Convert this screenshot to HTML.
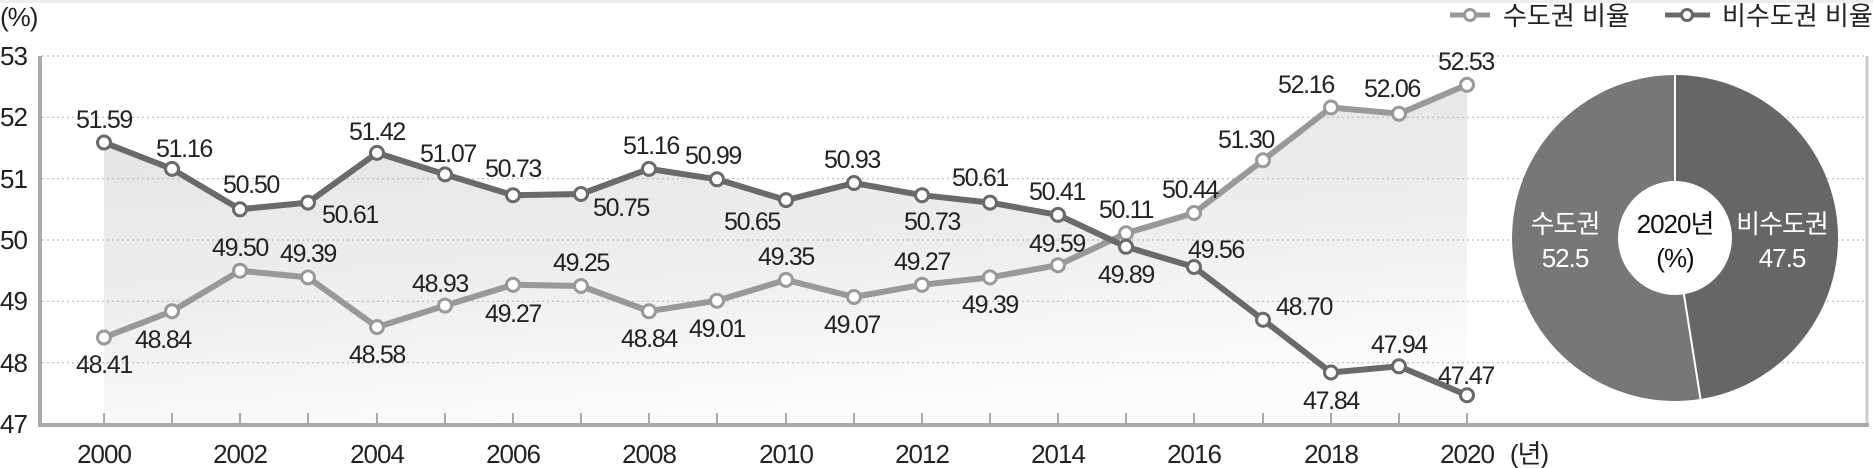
<!DOCTYPE html>
<html><head><meta charset="utf-8"><style>
html,body{margin:0;padding:0;background:#fff;}
svg{display:block;}
text{font-family:"Liberation Sans","Noto Sans CJK KR",sans-serif;}
</style></head><body>
<svg width="1873" height="468" viewBox="0 0 1873 468" xmlns="http://www.w3.org/2000/svg">
<defs>
<linearGradient id="g" x1="0" y1="0" x2="0.3" y2="1">
<stop offset="0" stop-color="#e2e2e2"/><stop offset="0.6" stop-color="#eeeeee"/><stop offset="1" stop-color="#fbfbfb"/>
</linearGradient>
</defs>
<rect x="0" y="0" width="1873" height="3" fill="#eee"/>
<polygon fill="url(#g)" points="104,424 104,142.5 172,168.9 240,209.3 308,202.6 377,152.9 445,174.4 513,195.2 581,194 649,168.9 717,179.3 786,200.1 854,183 922,195.2 990,202.6 1058,214.9 1114,240 1126,233.3 1194,213 1263,160.3 1331,107.5 1399,113.7 1467,84.8 1467,424"/>
<g stroke="#bbb" stroke-width="1.2" stroke-dasharray="2,3">
<line x1="42" y1="56" x2="1866" y2="56"/>
<line x1="42" y1="117.3" x2="1866" y2="117.3"/>
<line x1="42" y1="178.7" x2="1866" y2="178.7"/>
<line x1="42" y1="240" x2="1866" y2="240"/>
<line x1="42" y1="301.3" x2="1866" y2="301.3"/>
<line x1="42" y1="362.7" x2="1866" y2="362.7"/>
</g>
<line x1="1867" y1="56" x2="1867" y2="427" stroke="#ccc" stroke-width="3"/>
<line x1="40" y1="56" x2="40" y2="427" stroke="#aaa" stroke-width="4"/>
<line x1="38" y1="425" x2="1869" y2="425" stroke="#aaa" stroke-width="4"/>
<g stroke="#aaa" stroke-width="2">
<line x1="104" y1="413" x2="104" y2="424"/><line x1="172" y1="413" x2="172" y2="424"/><line x1="240" y1="413" x2="240" y2="424"/><line x1="308" y1="413" x2="308" y2="424"/><line x1="377" y1="413" x2="377" y2="424"/><line x1="445" y1="413" x2="445" y2="424"/><line x1="513" y1="413" x2="513" y2="424"/><line x1="581" y1="413" x2="581" y2="424"/><line x1="649" y1="413" x2="649" y2="424"/><line x1="717" y1="413" x2="717" y2="424"/><line x1="786" y1="413" x2="786" y2="424"/><line x1="854" y1="413" x2="854" y2="424"/><line x1="922" y1="413" x2="922" y2="424"/><line x1="990" y1="413" x2="990" y2="424"/><line x1="1058" y1="413" x2="1058" y2="424"/><line x1="1126" y1="413" x2="1126" y2="424"/><line x1="1194" y1="413" x2="1194" y2="424"/><line x1="1263" y1="413" x2="1263" y2="424"/><line x1="1331" y1="413" x2="1331" y2="424"/><line x1="1399" y1="413" x2="1399" y2="424"/><line x1="1467" y1="413" x2="1467" y2="424"/>
</g>
<g font-size="26" fill="#222" letter-spacing="-1">
<text x="0" y="26">(%)</text>
<text x="0" y="65">53</text><text x="0" y="126">52</text><text x="0" y="188">51</text><text x="0" y="249">50</text><text x="0" y="310">49</text><text x="0" y="372">48</text><text x="0" y="433">47</text>
</g>
<g font-size="26" fill="#222" text-anchor="middle" letter-spacing="-1">
<text x="104" y="463">2000</text><text x="240" y="463">2002</text><text x="377" y="463">2004</text><text x="513" y="463">2006</text><text x="649" y="463">2008</text><text x="786" y="463">2010</text><text x="922" y="463">2012</text><text x="1058" y="463">2014</text><text x="1194" y="463">2016</text><text x="1331" y="463">2018</text><text x="1467" y="463">2020</text>
<text x="1529" y="463">(년)</text>
</g>
<polyline fill="none" stroke="#999" stroke-width="6" stroke-linejoin="round" points="104,337.5 172,311.2 240,270.7 308,277.4 377,327.1 445,305.6 513,284.8 581,286 649,311.2 717,300.7 786,279.9 854,297 922,284.8 990,277.4 1058,265.2 1126,233.3 1194,213 1263,160.3 1331,107.5 1399,113.7 1467,84.8"/>
<polyline fill="none" stroke="#6a6a6a" stroke-width="6" stroke-linejoin="round" points="104,142.5 172,168.9 240,209.3 308,202.6 377,152.9 445,174.4 513,195.2 581,194 649,168.9 717,179.3 786,200.1 854,183 922,195.2 990,202.6 1058,214.9 1126,246.8 1194,267 1263,319.7 1331,372.5 1399,366.3 1467,395.2"/>
<g fill="#fff" stroke="#999" stroke-width="3">
<circle cx="104" cy="337.5" r="6.5"/><circle cx="172" cy="311.2" r="6.5"/><circle cx="240" cy="270.7" r="6.5"/><circle cx="308" cy="277.4" r="6.5"/><circle cx="377" cy="327.1" r="6.5"/><circle cx="445" cy="305.6" r="6.5"/><circle cx="513" cy="284.8" r="6.5"/><circle cx="581" cy="286" r="6.5"/><circle cx="649" cy="311.2" r="6.5"/><circle cx="717" cy="300.7" r="6.5"/><circle cx="786" cy="279.9" r="6.5"/><circle cx="854" cy="297" r="6.5"/><circle cx="922" cy="284.8" r="6.5"/><circle cx="990" cy="277.4" r="6.5"/><circle cx="1058" cy="265.2" r="6.5"/><circle cx="1126" cy="233.3" r="6.5"/><circle cx="1194" cy="213" r="6.5"/><circle cx="1263" cy="160.3" r="6.5"/><circle cx="1331" cy="107.5" r="6.5"/><circle cx="1399" cy="113.7" r="6.5"/><circle cx="1467" cy="84.8" r="6.5"/>
</g>
<g fill="#fff" stroke="#6a6a6a" stroke-width="3">
<circle cx="104" cy="142.5" r="6.5"/><circle cx="172" cy="168.9" r="6.5"/><circle cx="240" cy="209.3" r="6.5"/><circle cx="308" cy="202.6" r="6.5"/><circle cx="377" cy="152.9" r="6.5"/><circle cx="445" cy="174.4" r="6.5"/><circle cx="513" cy="195.2" r="6.5"/><circle cx="581" cy="194" r="6.5"/><circle cx="649" cy="168.9" r="6.5"/><circle cx="717" cy="179.3" r="6.5"/><circle cx="786" cy="200.1" r="6.5"/><circle cx="854" cy="183" r="6.5"/><circle cx="922" cy="195.2" r="6.5"/><circle cx="990" cy="202.6" r="6.5"/><circle cx="1058" cy="214.9" r="6.5"/><circle cx="1126" cy="246.8" r="6.5"/><circle cx="1194" cy="267" r="6.5"/><circle cx="1263" cy="319.7" r="6.5"/><circle cx="1331" cy="372.5" r="6.5"/><circle cx="1399" cy="366.3" r="6.5"/><circle cx="1467" cy="395.2" r="6.5"/>
</g>
<g font-size="25" fill="#222" text-anchor="middle" letter-spacing="-1.3">
<text x="104" y="128">51.59</text><text x="184" y="157">51.16</text><text x="251" y="193">50.50</text><text x="350" y="223">50.61</text><text x="377" y="140">51.42</text><text x="448" y="162">51.07</text><text x="513" y="177">50.73</text><text x="621" y="216">50.75</text><text x="651" y="154">51.16</text><text x="713" y="164">50.99</text><text x="752" y="230">50.65</text><text x="852" y="168">50.93</text><text x="932" y="230">50.73</text><text x="980" y="186">50.61</text><text x="1057" y="200">50.41</text><text x="1126" y="283">49.89</text><text x="1216" y="258">49.56</text><text x="1276" y="315" text-anchor="start">48.70</text><text x="1331" y="409">47.84</text><text x="1399" y="353">47.94</text><text x="1466" y="384">47.47</text>
<text x="104" y="373">48.41</text><text x="163" y="348">48.84</text><text x="240" y="256">49.50</text><text x="308" y="262">49.39</text><text x="377" y="363">48.58</text><text x="440" y="292">48.93</text><text x="513" y="322">49.27</text><text x="581" y="271">49.25</text><text x="649" y="347">48.84</text><text x="717" y="337">49.01</text><text x="786" y="265">49.35</text><text x="852" y="333">49.07</text><text x="922" y="270">49.27</text><text x="990" y="313">49.39</text><text x="1057" y="252">49.59</text><text x="1126" y="218">50.11</text><text x="1190" y="198">50.44</text><text x="1246" y="148">51.30</text><text x="1306" y="93">52.16</text><text x="1392" y="97">52.06</text><text x="1466" y="70">52.53</text>
</g>
<path d="M1675,238 L1675,75 A163,163 0 0,1 1700.5,399 Z" fill="#666"/>
<path d="M1675,238 L1700.5,399 A163,163 0 1,1 1675,75 Z" fill="#777"/>
<line x1="1675" y1="75" x2="1675" y2="238" stroke="#fff" stroke-width="2"/>
<line x1="1675" y1="238" x2="1700.5" y2="399" stroke="#fff" stroke-width="2"/>
<circle cx="1675" cy="238" r="57" fill="#fff"/>
<g font-size="26" text-anchor="middle" letter-spacing="-1">
<text x="1565" y="233" fill="#fff">수도권</text><text x="1565" y="267" fill="#fff">52.5</text>
<text x="1782" y="233" fill="#fff">비수도권</text><text x="1782" y="267" fill="#fff">47.5</text>
<text x="1675" y="233" fill="#111">2020년</text><text x="1675" y="267" fill="#111">(%)</text>
</g>
<line x1="1450" y1="15" x2="1490" y2="15" stroke="#999" stroke-width="5"/>
<circle cx="1470" cy="15" r="5.5" fill="#fff" stroke="#999" stroke-width="3"/>
<text x="1503" y="25" font-size="26" fill="#222">수도권 비율</text>
<line x1="1665" y1="15" x2="1710" y2="15" stroke="#6a6a6a" stroke-width="5"/>
<circle cx="1687" cy="15" r="5.5" fill="#fff" stroke="#6a6a6a" stroke-width="3"/>
<text x="1722" y="25" font-size="26" fill="#222">비수도권 비율</text>
</svg>
</body></html>
